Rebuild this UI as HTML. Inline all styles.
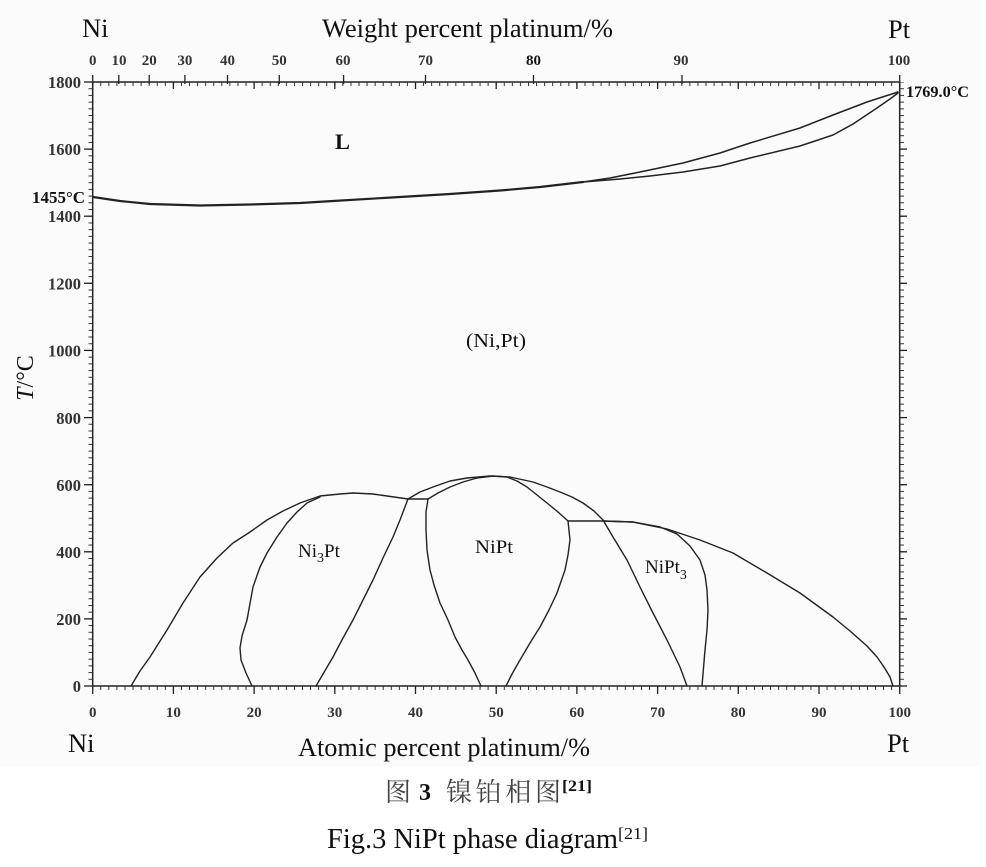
<!DOCTYPE html>
<html><head><meta charset="utf-8"><style>
html,body{margin:0;padding:0;background:#fff;}
svg{display:block;}
text{font-family:"Liberation Serif","Noto Serif CJK SC",serif;}
</style></head><body>
<svg width="986" height="867" viewBox="0 0 986 867" xmlns="http://www.w3.org/2000/svg">
<defs>
<pattern id="px" x="92.2" y="0" width="8.07" height="10" patternUnits="userSpaceOnUse"><rect x="0" y="0" width="1" height="10" fill="#333"/></pattern>
<pattern id="py" x="0" y="685.5" width="10" height="6.711" patternUnits="userSpaceOnUse"><rect x="0" y="0" width="10" height="1" fill="#333"/></pattern>
</defs>
<rect x="0" y="0" width="980" height="766" fill="#fbfbfb"/>

<!-- minor ticks -->
<rect x="92" y="686" width="808" height="4" fill="url(#px)"/>
<rect x="92" y="82" width="808" height="4" fill="url(#px)"/>
<rect x="88.5" y="82" width="4.5" height="605" fill="url(#py)"/>
<rect x="899" y="82" width="5" height="605" fill="url(#py)"/>

<g stroke="#222" stroke-width="1.5" fill="none">
<line x1="92.7" y1="82" x2="92.7" y2="686"/>
<line x1="899.7" y1="82" x2="899.7" y2="686"/>
<line x1="92" y1="82" x2="900.5" y2="82"/>
<line x1="92" y1="686" x2="900.5" y2="686"/>
</g>
<g stroke="#222" stroke-width="1.3">
<line x1="84" y1="686" x2="93" y2="686"/><line x1="84" y1="618.9" x2="93" y2="618.9"/>
<line x1="84" y1="551.8" x2="93" y2="551.8"/><line x1="84" y1="484.7" x2="93" y2="484.7"/>
<line x1="84" y1="417.6" x2="93" y2="417.6"/><line x1="84" y1="350.4" x2="93" y2="350.4"/>
<line x1="84" y1="283.3" x2="93" y2="283.3"/><line x1="84" y1="216.2" x2="93" y2="216.2"/>
<line x1="84" y1="149.1" x2="93" y2="149.1"/><line x1="84" y1="82" x2="93" y2="82"/>
<line x1="899" y1="618.9" x2="907" y2="618.9"/><line x1="899" y1="551.8" x2="907" y2="551.8"/>
<line x1="899" y1="484.7" x2="907" y2="484.7"/><line x1="899" y1="417.6" x2="907" y2="417.6"/>
<line x1="899" y1="350.4" x2="907" y2="350.4"/><line x1="899" y1="283.3" x2="907" y2="283.3"/>
<line x1="899" y1="216.2" x2="907" y2="216.2"/><line x1="899" y1="149.1" x2="907" y2="149.1"/>
<line x1="899" y1="686" x2="907" y2="686"/>
<line x1="92.7" y1="686" x2="92.7" y2="694"/><line x1="173.4" y1="686" x2="173.4" y2="694"/>
<line x1="254.1" y1="686" x2="254.1" y2="694"/><line x1="334.8" y1="686" x2="334.8" y2="694"/>
<line x1="415.5" y1="686" x2="415.5" y2="694"/><line x1="496.2" y1="686" x2="496.2" y2="694"/>
<line x1="576.9" y1="686" x2="576.9" y2="694"/><line x1="657.6" y1="686" x2="657.6" y2="694"/>
<line x1="738.3" y1="686" x2="738.3" y2="694"/><line x1="819" y1="686" x2="819" y2="694"/>
<line x1="899.7" y1="686" x2="899.7" y2="694"/>
<line x1="173.4" y1="82" x2="173.4" y2="89"/><line x1="254.1" y1="82" x2="254.1" y2="89"/>
<line x1="334.8" y1="82" x2="334.8" y2="89"/><line x1="415.5" y1="82" x2="415.5" y2="89"/>
<line x1="496.2" y1="82" x2="496.2" y2="89"/><line x1="576.9" y1="82" x2="576.9" y2="89"/>
<line x1="657.6" y1="82" x2="657.6" y2="89"/><line x1="738.3" y1="82" x2="738.3" y2="89"/>
<line x1="819" y1="82" x2="819" y2="89"/>
<line x1="92.7" y1="75" x2="92.7" y2="87"/><line x1="118.8" y1="75" x2="118.8" y2="84"/>
<line x1="149.2" y1="75" x2="149.2" y2="84"/><line x1="184.9" y1="75" x2="184.9" y2="84"/>
<line x1="227.5" y1="75" x2="227.5" y2="84"/><line x1="279.3" y1="75" x2="279.3" y2="84"/>
<line x1="343.6" y1="75" x2="343.6" y2="84"/><line x1="425.5" y1="75" x2="425.5" y2="84"/>
<line x1="533.5" y1="75" x2="533.5" y2="84"/><line x1="682" y1="75" x2="682" y2="84"/>
<line x1="899.7" y1="75" x2="899.7" y2="87"/>
</g>

<g stroke="#222" fill="none" stroke-linejoin="round" stroke-linecap="round">
<polyline stroke-width="2.2" points="93,197 120,201 150,204 200,205.5 250,204.5 300,203 333,201 400,197 450,194 500,190.5 540,187 583,182"/>
<polyline stroke-width="1.5" points="583,182 610,178 640,172 683,163 720,153 750,143 800,128 833,115 867,102 898,92"/>
<polyline stroke-width="1.5" points="583,182 620,179 650,176 683,172 720,166 750,158 800,146 833,135 853,124 877,108 890,99 898,93"/>

<g stroke-width="1.4">
<polyline points="131,686 140,671 150,657 167,630 183,603 200,577 217,558 233,543 250,532 267,520 283,511 300,503 320,496 340,494 353,493 373,494 387,496 408,499"/>
<polyline points="252,686 246,673 241,660 240,648 242,636 247,620 253,587 260,567 267,553 277,537 287,523 297,512 307,503 320,497"/>
<polyline points="316,686 333,657 343,638 353,620 363,600 373,580 383,558 393,537 400,520 408,499"/>
<polyline points="408,499 428,499"/>
<polyline points="408,499 420,492 433,487 450,481 467,478 490,476 510,477 533,482 547,487 560,492 572,497 583,503 594,511 603,520 613,537 627,560 640,587 653,613 667,640 680,667 687,686"/>
<polyline points="428,499 438,493 450,487 463,482 477,478 493,476 507,477 517,481 527,487 537,495 547,503 558,512 568,521"/>
<polyline points="428,499 426,512 426,530 427,550 430,570 434,585 440,603 448,620 455,637 462,650 468,660 475,673 481,686"/>
<polyline points="568,521 570,540 568,555 565,570 557,593 549,610 540,627 530,643 520,660 512,674 506,686"/>
<polyline points="568,521 603,521"/>
<polyline points="603,521 633,522 660,527 677,534 690,546 700,560 705,575 707,590 708,610 707,630 705,650 702,686"/>
<polyline points="603,521 633,522 667,529 700,540 733,553 767,573 800,593 833,617 850,631 867,646 877,657 884,667 890,677 893,686"/>
</g>
</g>

<g fill="#111" font-size="26.5">
<text x="82" y="37">Ni</text>
<text x="322" y="37" textLength="291" lengthAdjust="spacingAndGlyphs">Weight percent platinum/%</text>
<text x="888" y="38">Pt</text>
<text x="68" y="752">Ni</text>
<text x="887" y="752">Pt</text>
<text x="298" y="756" textLength="292" lengthAdjust="spacingAndGlyphs">Atomic percent platinum/%</text>
</g>

<g fill="#333" font-size="15" font-weight="bold" text-anchor="middle">
<text x="92.7" y="65">0</text><text x="119" y="65">10</text><text x="149.2" y="65">20</text>
<text x="184.9" y="65">30</text><text x="227.5" y="65">40</text><text x="279.3" y="65">50</text>
<text x="343" y="65">60</text><text x="425.5" y="65">70</text><text x="533.5" y="65" fill="#111">80</text>
<text x="681" y="65">90</text><text x="899" y="65">100</text>
</g>
<g fill="#333" font-size="15" font-weight="bold" text-anchor="middle">
<text x="92.7" y="717">0</text><text x="173.4" y="717">10</text><text x="254.1" y="717">20</text>
<text x="334.8" y="717">30</text><text x="415.5" y="717">40</text><text x="496.2" y="717">50</text>
<text x="576.9" y="717">60</text><text x="657.6" y="717">70</text><text x="738.3" y="717">80</text>
<text x="819" y="717">90</text><text x="899.7" y="717">100</text>
</g>
<g fill="#333" font-size="16.5" font-weight="bold" text-anchor="end">
<text x="81" y="692">0</text><text x="81" y="625">200</text><text x="81" y="558">400</text>
<text x="81" y="491">600</text><text x="81" y="424">800</text><text x="81" y="356.5">1000</text>
<text x="81" y="289.5">1200</text><text x="81" y="222">1400</text><text x="81" y="155">1600</text>
<text x="81" y="88">1800</text>
</g>
<text x="32" y="203" font-size="16.5" font-weight="bold" fill="#111" textLength="53" lengthAdjust="spacingAndGlyphs">1455°C</text>
<text x="906" y="97" font-size="16" font-weight="bold" fill="#111" textLength="63" lengthAdjust="spacingAndGlyphs">1769.0°C</text>

<text transform="translate(33,378) rotate(-90)" text-anchor="middle" font-size="24" fill="#111"><tspan font-style="italic">T</tspan>/°C</text>

<g fill="#111">
<text x="335" y="149" font-size="22" font-weight="bold" textLength="15" lengthAdjust="spacingAndGlyphs">L</text>
<text x="466" y="347" font-size="20" textLength="60" lengthAdjust="spacingAndGlyphs">(Ni,Pt)</text>
<text x="298" y="557" font-size="19">Ni<tspan font-size="14" dy="5">3</tspan><tspan dy="-5">Pt</tspan></text>
<text x="475" y="553" font-size="19" textLength="38" lengthAdjust="spacingAndGlyphs">NiPt</text>
<text x="645" y="573" font-size="19">NiPt<tspan font-size="14" dy="6">3</tspan></text>
</g>

<text x="385" y="801" font-size="26" fill="#444" font-family="'Noto Serif CJK SC','Noto Sans CJK SC',serif">图</text>
<text x="419" y="800" font-size="24" font-weight="bold" fill="#111">3</text>
<text x="446" y="801" font-size="26" fill="#444" font-family="'Noto Serif CJK SC','Noto Sans CJK SC',serif" textLength="115" lengthAdjust="spacing">镍铂相图</text>
<text x="562" y="791" font-size="16" font-weight="bold" fill="#111" textLength="30" lengthAdjust="spacingAndGlyphs">[21]</text>

<text x="327" y="848" font-size="28" fill="#111" textLength="291" lengthAdjust="spacingAndGlyphs">Fig.3 NiPt phase diagram</text>
<text x="618" y="839" font-size="17" fill="#111" textLength="30" lengthAdjust="spacingAndGlyphs">[21]</text>
</svg>
</body></html>
